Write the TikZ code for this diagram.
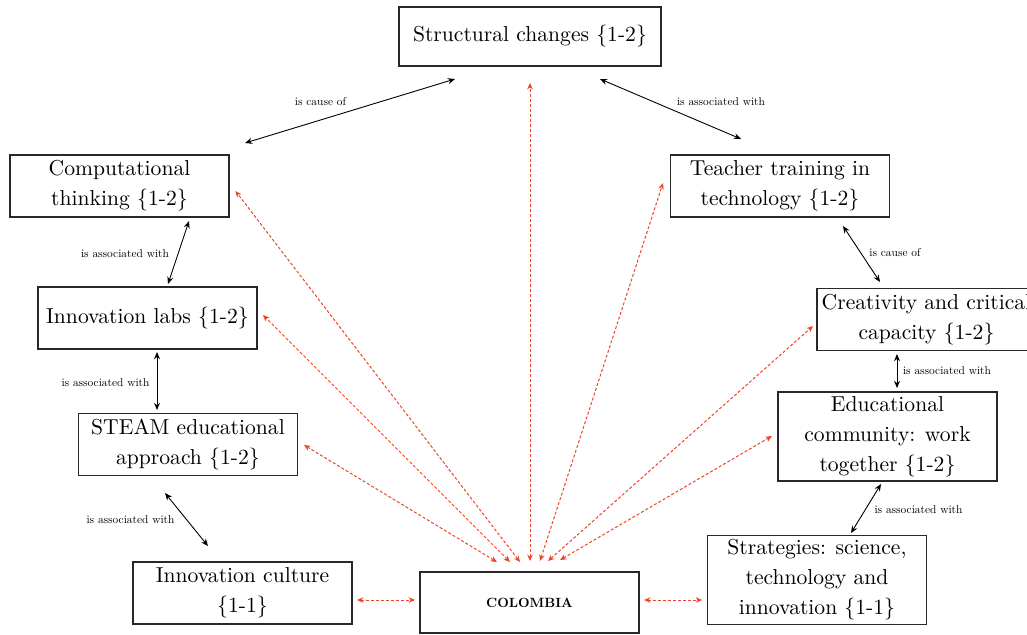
\documentclass[tikz,border=0pt]{standalone}
\usepackage{graphicx}
\usetikzlibrary{arrows.meta,calc}
\definecolor{redarr}{RGB}{236,70,40}
\definecolor{boxline}{RGB}{40,40,40}
\tikzset{
  box/.style={draw=boxline, line width=0.6pt, align=center, inner sep=2pt,
    font=\fontsize{10.8}{15}\selectfont, minimum width=109.5pt, minimum height=31pt},
  lbl/.style={inner sep=0pt},
  blk/.style={line width=0.45pt, {Stealth[length=3.6pt,width=3pt]}-{Stealth[length=3.6pt,width=3pt]}},
  redl/.style={draw=redarr, line width=0.5pt, dash pattern=on 1.5pt off 1pt,
    {Stealth[length=3.2pt,width=2.8pt]}-{Stealth[length=3.2pt,width=2.8pt]}}
}
\newcommand{\br}[1]{$\{$#1$\}$}
\newcommand{\smalltext}[1]{\scalebox{0.57}{\fontsize{10}{12}\selectfont #1}}
\begin{document}
\begin{tikzpicture}[x=0.5pt,y=-0.5pt]
\useasboundingbox (0,0) rectangle (1027,634);
% boxes
\node[box, minimum width=131pt, minimum height=29.5pt] (sc) at (530,36.5) {Structural changes \br{1-2}};
\node[box] (ct) at (119.5,186) {Computational\\thinking \br{1-2}};
\node[box] (il) at (147.5,318) {Innovation labs \br{1-2}};
\node[box] (st) at (188,444.5) {STEAM educational\\approach \br{1-2}};
\node[box] (ic) at (242.5,593) {Innovation culture\\\br{1-1}};
\node[box, minimum height=30.5pt] (co) at (529.5,602.5) {\scalebox{0.67}{\fontsize{10}{12}\selectfont\bfseries COLOMBIA}};
\node[box, minimum height=44pt] (sg) at (817,580) {Strategies: science,\\technology and\\innovation \br{1-1}};
\node[box, minimum height=44.5pt] (ec) at (887.5,436.5) {Educational\\community: work\\together \br{1-2}};
\node[box] (cr) at (926.5,319.5) {Creativity and critical\\capacity \br{1-2}};
\node[box] (tt) at (780,186) {Teacher training in\\technology \br{1-2}};
% black connectors
\draw[blk] ($(sc)+(-75,42.5)$) -- ($(ct)+(125.5,-43)$);
\draw[blk] ($(sc)+(70,42.5)$) -- ($(tt)+(-39,-47)$);
\draw[blk] ($(ct)+(69.5,35)$) -- ($(il)+(20.5,-34)$);
\draw[blk] ($(il)+(9.5,34)$) -- ($(st)+(-31,-34.5)$);
\draw[blk] ($(st)+(-23,48.5)$) -- ($(ic)+(-34.5,-47)$);
\draw[blk] ($(tt)+(63,40)$) -- ($(cr)+(-46.5,-37.5)$);
\draw[blk] ($(cr)+(-29.5,34.5)$) -- ($(ec)+(9.5,-48.5)$);
\draw[blk] ($(ec)+(-6.5,47.5)$) -- ($(sg)+(34,-47)$);
% labels
\node[lbl] (l1) at (320.5,102) {\smalltext{is cause of}};
\node[lbl] (l2) at (721,102) {\smalltext{is associated with}};
\node[lbl] (l3) at (125,254) {\smalltext{is associated with}};
\node[lbl] (l4) at (105.5,383) {\smalltext{is associated with}};
\node[lbl] (l5) at (130.5,520) {\smalltext{is associated with}};
\node[lbl] (l6) at (895,253) {\smalltext{is cause of}};
\node[lbl] (l7) at (947,371) {\smalltext{is associated with}};
\node[lbl] (l8) at (918.5,510) {\smalltext{is associated with}};
% red connectors
\draw[redl] ($(co)+(-32.5,-40.5)$) -- ($(st)+(116,0.5)$);
\draw[redl] ($(co)+(-19.5,-40.5)$) -- ($(il)+(115.5,-3)$);
\draw[redl] ($(co)+(-9.5,-40.5)$) -- ($(ct)+(116,5)$);
\draw[redl] ($(co)+(0.5,-41.5)$) -- ($(sc)+(0,46.5)$);
\draw[redl] ($(co)+(10.5,-41.5)$) -- ($(tt)+(-117,-3)$);
\draw[redl] ($(co)+(18.5,-41.5)$) -- ($(cr)+(-113.5,6.5)$);
\draw[redl] ($(co)+(30.5,-42.5)$) -- ($(ec)+(-115.5,-0.5)$);
\draw[redl] ($(ic)+(114.5,7)$) -- ($(co)+(-114.5,-2.5)$);
\draw[redl] ($(co)+(114.5,-2.5)$) -- ($(sg)+(-115,20)$);
\end{tikzpicture}
\end{document}
